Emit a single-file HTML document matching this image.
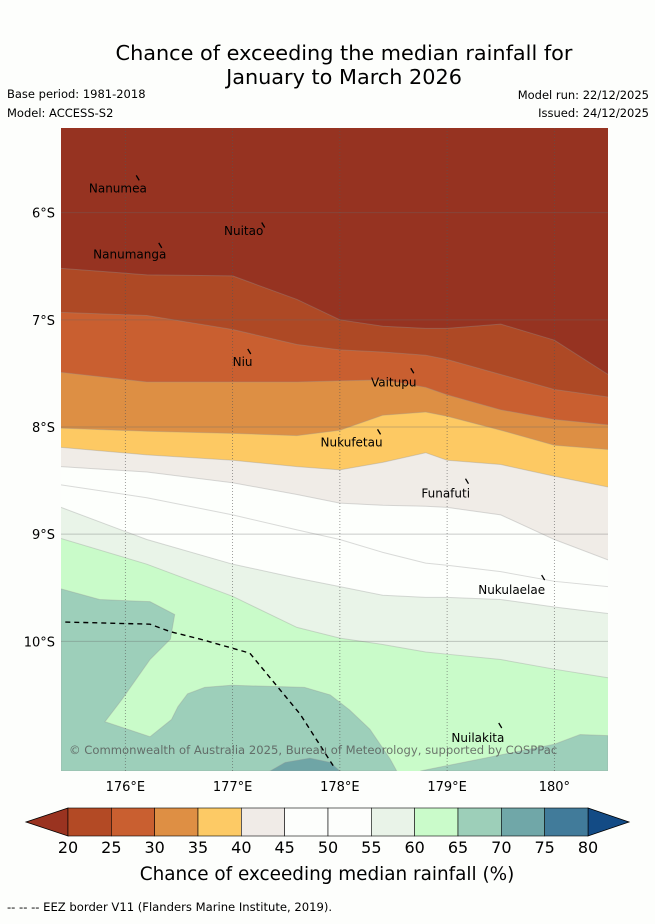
<!DOCTYPE html>
<html><head><meta charset="utf-8">
<style>
html,body{margin:0;padding:0;background:#fdfefc;}
body{width:655px;height:919px;overflow:hidden;font-family:"Liberation Sans","DejaVu Sans",sans-serif;}
svg text{font-family:"DejaVu Sans","Liberation Sans",sans-serif;}
</style></head>
<body>
<svg id="chart" width="655" height="919" viewBox="0 0 655 919" xmlns="http://www.w3.org/2000/svg">
<rect width="655" height="919" fill="#fdfefc"/>
<text x="344" y="60" font-size="20.8" text-anchor="middle" fill="#000">Chance of exceeding the median rainfall for</text>
<text x="344" y="84" font-size="20.8" text-anchor="middle" fill="#000">January to March 2026</text>
<text x="7" y="98" font-size="11.5">Base period: 1981-2018</text>
<text x="7" y="117" font-size="11.5">Model: ACCESS-S2</text>
<text x="649" y="99" font-size="11.5" text-anchor="end">Model run: 22/12/2025</text>
<text x="649" y="117" font-size="11.5" text-anchor="end">Issued: 24/12/2025</text>
<g id="map"></g>
<g id="cbar"></g>
<text x="327" y="880" font-size="18.4" text-anchor="middle">Chance of exceeding median rainfall (%)</text>
<text x="7" y="911" font-size="11.6">--  --  -- EEZ border V11 (Flanders Marine Institute, 2019).</text>
</svg>
<script>
const NS="http://www.w3.org/2000/svg";
// axis data
const lonTicks=[176,177,178,179,180];
const latTicks=[6,7,8,9,10];
const lonTickLabels=["176°E","177°E","178°E","179°E","180°"];
const latTickLabels=["6°S","7°S","8°S","9°S","10°S"];
// contour boundary data (lat °S at each longitude)
const bLons=[175.4,176.2,177.0,177.6,178.0,178.4,178.8,179.0,179.5,180.0,180.5];
const b20=[6.52,6.58,6.59,6.81,7.00,7.06,7.08,7.08,7.04,7.19,7.51];
const b25=[6.93,6.96,7.09,7.23,7.28,7.30,7.33,7.37,7.51,7.65,7.72];
const b30=[7.49,7.58,7.58,7.58,7.57,7.56,7.63,7.70,7.84,7.93,7.98];
const b35=[8.01,8.04,8.06,8.08,8.03,7.89,7.86,7.90,8.03,8.17,8.21];
const b40=[8.19,8.26,8.31,8.37,8.40,8.33,8.24,8.31,8.35,8.46,8.56];
const b45=[8.37,8.42,8.52,8.63,8.71,8.73,8.74,8.75,8.82,9.05,9.24];
const b50=[8.54,8.66,8.82,8.96,9.05,9.17,9.27,9.29,9.35,9.44,9.49];
const b55=[8.75,9.05,9.28,9.41,9.49,9.57,9.59,9.59,9.61,9.68,9.74];
const b60=[9.04,9.28,9.58,9.87,9.97,10.03,10.10,10.12,10.17,10.26,10.34];
// 65-70 regions [lon,lat]
const r65a=[[175.40,9.51],[175.76,9.61],[176.23,9.63],[176.46,9.75],[176.42,9.98],[176.23,10.17],[175.97,10.54],[175.81,10.75],[176.23,10.89],[176.43,10.73],[176.49,10.61],[176.58,10.49],[176.74,10.43],[176.99,10.41],[177.67,10.43],[177.91,10.50],[178.09,10.64],[178.28,10.82],[178.47,11.10],[178.53,11.21],[175.40,11.21]];
const r65b=[[178.75,11.21],[179.30,11.10],[180.00,10.96],[180.24,10.87],[180.50,10.88],[180.50,11.21]];
const r70=[[177.35,11.21],[177.49,11.13],[177.72,11.09],[177.91,11.13],[178.00,11.21]];
const eez=[[175.44,9.82],[176.23,9.84],[176.42,9.91],[176.70,9.98],[177.16,10.11],[177.30,10.28],[177.63,10.68],[177.95,11.18]];
const islandNames=["Nanumea","Nuitao","Nanumanga","Niu","Vaitupu","Nukufetau","Funafuti","Nukulaelae","Nuilakita"];
const islandLon=[176.12,177.29,176.33,177.16,178.68,178.37,179.19,179.90,179.50];
const islandLat=[5.68,6.12,6.31,7.30,7.48,8.05,8.51,9.41,10.79];
const islandLabLon=[175.66,176.92,175.70,177.00,178.29,177.82,178.76,179.29,179.04];
const islandLabLat=[5.81,6.21,6.43,7.43,7.62,8.18,8.66,9.56,10.94];
// colorbar
const cbLevels=[20,25,30,35,40,45,50,55,60,65,70,75,80];
const cbColors=["#b34a25","#c95f30","#de8f44","#fdca65","#f0ebe7","#fdfefc","#fdfefc","#e9f3e8","#cafbca","#9dcfb9","#70a7a8","#417b9a"];
const mapColors={top:"#963321",c20:"#ae4925",c25:"#c95f30",c30:"#dd8f44",c35:"#fdc963",c40:"#f0ece7",c45:"#fdfffc",c50:"#fdfffc",c55:"#e9f4e8",c60:"#c9fbc9",c65:"#9dcfba",c70:"#6fa5a6"};

const X0=61,X1=608,Y0=128,Y1=771,LON0=175.40,LON1=180.50,LAT0=5.21,LAT1=11.21;
const xs=l=>X0+(l-LON0)/(LON1-LON0)*(X1-X0);
const ys=l=>Y0+(l-LAT0)/(LAT1-LAT0)*(Y1-Y0);
const map=document.getElementById('map');
function mk(tag,attrs,parent){const e=document.createElementNS(NS,tag);for(const k in attrs)e.setAttribute(k,attrs[k]);(parent||map).appendChild(e);return e;}
const defs=mk('defs',{});
const cp=mk('clipPath',{id:'mapclip'},defs);
mk('rect',{x:X0,y:Y0,width:X1-X0,height:Y1-Y0},cp);
const g=mk('g',{'clip-path':'url(#mapclip)'});
let r=mk('rect',{x:X0,y:Y0,width:X1-X0,height:Y1-Y0,fill:mapColors.top},g);


const bounds=[b20,b25,b30,b35,b40,b45,b50,b55,b60];
const fills=[mapColors.c20,mapColors.c25,mapColors.c30,mapColors.c35,mapColors.c40,mapColors.c45,mapColors.c50,mapColors.c55,mapColors.c60];
const lvl=[20,25,30,35,40,45,50,55,60];
bounds.forEach((b,i)=>{
  const pts=bLons.map((l,j)=>xs(l)+','+ys(b[j]));
  const d='M'+pts.join(' L')+' L'+xs(LON1)+','+(Y1+5)+' L'+xs(LON0)+','+(Y1+5)+' Z';
  const p=mk('path',{d:d,fill:fills[i]},g);
  
  
  const ln=mk('path',{d:'M'+pts.join(' L'),fill:'none',stroke:'rgba(150,150,150,0.35)','stroke-width':1},g);
  
  
});
function poly(arr,fill,name){const p=mk('polygon',{points:arr.map(q=>xs(q[0])+','+ys(q[1])).join(' '),fill:fill,stroke:'rgba(150,150,150,0.35)','stroke-width':1},g);

}
poly(r65a,mapColors.c65,'region-65-west');
poly(r65b,mapColors.c65,'region-65-east');
poly(r70,mapColors.c70,'region-70');
// gridlines
lonTicks.forEach((l,i)=>{
  const ln=mk('line',{x1:xs(l),x2:xs(l),y1:Y0,y2:Y1,stroke:'#555','stroke-width':0.8,'stroke-dasharray':'1,2','stroke-opacity':0.7},g);
  
  
  const t=mk('text',{x:xs(l),y:791,'font-size':13,'text-anchor':'middle'});
  t.textContent=lonTickLabels[i];
  
  
});
latTicks.forEach((l,i)=>{
  const ln=mk('line',{x1:X0,x2:X1,y1:ys(l),y2:ys(l),stroke:'#666','stroke-width':1,'stroke-opacity':0.35},g);
  
  
  const t=mk('text',{x:55,y:ys(l)+5,'font-size':13,'text-anchor':'end'});
  t.textContent=latTickLabels[i];
  
  
});
// EEZ
const e=mk('polyline',{points:eez.map(q=>xs(q[0])+','+ys(q[1])).join(' '),fill:'none',stroke:'#000','stroke-width':1.4,'stroke-dasharray':'5,4'},g);


// islands
islandNames.forEach((n,i)=>{
  const m=mk('line',{x1:xs(islandLon[i])-2,y1:ys(islandLat[i])-3,x2:xs(islandLon[i])+1,y2:ys(islandLat[i])+2,stroke:'#000','stroke-width':1.3},g);
  
  
  const t=mk('text',{x:xs(islandLabLon[i]),y:ys(islandLabLat[i]),'font-size':12},g);
  t.textContent=n;
  
  
});
const c=mk('text',{x:69,y:754,'font-size':11.6,fill:'#555','fill-opacity':0.8},g);
c.textContent='© Commonwealth of Australia 2025, Bureau of Meteorology, supported by COSPPac';


// colorbar
const cb=document.getElementById('cbar');
const CB0=68,CB1=588,CBY=808,CBH=28;
const cx=v=>CB0+(v-cbLevels[0])/(cbLevels[cbLevels.length-1]-cbLevels[0])*(CB1-CB0);
let a=mk('polygon',{points:`${CB0},${CBY} 26,${CBY+CBH/2} ${CB0},${CBY+CBH}`,fill:'#9a3320',stroke:'#000','stroke-width':0.8},cb);


a=mk('polygon',{points:`${CB1},${CBY} 629,${CBY+CBH/2} ${CB1},${CBY+CBH}`,fill:'#134b85',stroke:'#000','stroke-width':0.8},cb);


cbColors.forEach((col,i)=>{
  const rr=mk('rect',{x:cx(cbLevels[i]),y:CBY,width:cx(cbLevels[i+1])-cx(cbLevels[i]),height:CBH,fill:col,stroke:'#000','stroke-width':0.6},cb);
  
  
});
cbLevels.forEach(v=>{
  const t=mk('text',{x:cx(v),y:853,'font-size':16,'text-anchor':'middle'},cb);
  t.textContent=v;
  
  
});
</script>
</body></html>
